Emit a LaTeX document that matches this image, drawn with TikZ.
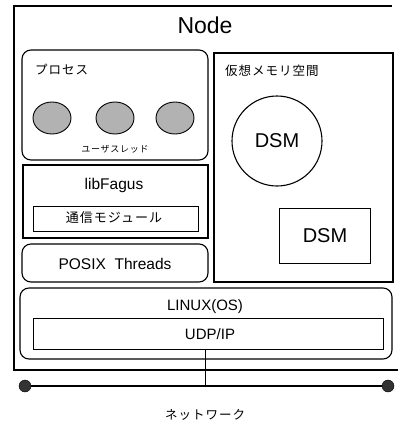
\documentclass[tikz,border=0pt]{standalone}
\usepackage{fontspec}
\setmainfont{Liberation Sans}
\newfontfamily\jp[LetterSpace=8]{Noto Sans CJK JP}
\usetikzlibrary{shapes.geometric}
\begin{document}
\begin{tikzpicture}[x=1pt,y=-1pt,
  box/.style={draw,line width=1.1pt},
  rbox/.style={draw,line width=1.1pt,rounded corners=9pt},
  ibox/.style={draw,line width=0.8pt},
  thread/.style={draw,line width=0.9pt,fill=gray!60},
  lbl/.style={inner sep=0pt,anchor=center},
  jlbl/.style={inner sep=0pt,font=\jp\fontsize{12.5}{12.5}\selectfont},
  dot/.style={circle,fill=black!80,draw,inner sep=0pt,minimum size=12pt}]
\useasboundingbox (0,0) rectangle (398,426);
% outer node frame
\draw[line width=1.1pt] (392,6) -- (14,6) -- (14,370) -- (398,370);
\node[lbl,font=\fontsize{23}{23}\selectfont] (title) at (205,25) {Node};
% process
\draw[rbox] (22,50) rectangle (208,160);
\node[jlbl,anchor=west] (proc) at (35,70) {プロセス};
\node[thread,ellipse,minimum width=38pt,minimum height=32pt,inner sep=0pt] (t1) at (52,118) {};
\node[thread,ellipse,minimum width=38pt,minimum height=32pt,inner sep=0pt] (t2) at (115,118) {};
\node[thread,ellipse,minimum width=38pt,minimum height=32pt,inner sep=0pt] (t3) at (175,118) {};
\node[jlbl,font=\jp\fontsize{9}{9}\selectfont] (ut) at (115,149) {ユーザスレッド};
% libFagus
\draw[box] (23,165) rectangle (208,238);
\node[lbl,font=\fontsize{15.5}{15.5}\selectfont] (lf) at (114,185) {libFagus};
\draw[ibox] (33,206) rectangle (198,231);
\node[jlbl,font=\jp\fontsize{13}{13}\selectfont] (comm) at (114,218) {通信モジュール};
% POSIX
\draw[rbox] (22,244) rectangle (208,282);
\node[lbl,font=\fontsize{15.5}{15.5}\selectfont] (posix) at (115,264) {POSIX\ \ Threads};
% virtual memory
\draw[box] (214,53) rectangle (393,282);
\node[jlbl,anchor=west] (vm) at (225,71) {仮想メモリ空間};
\node[circle,draw,line width=1.1pt,minimum size=90pt,inner sep=0pt,font=\fontsize{20}{20}\selectfont] (dsm1) at (277,141) {DSM};
\node[draw,line width=1.1pt,minimum width=91pt,minimum height=55pt,inner sep=0pt,font=\fontsize{20}{20}\selectfont] (dsm2) at (325,236) {DSM};
% linux
\draw[rbox] (20,288) rectangle (392,359);
\node[lbl,font=\fontsize{15}{15}\selectfont] (linux) at (205,307) {LINUX(OS)};
\draw[ibox] (33,318) rectangle (383,349);
\node[lbl,font=\fontsize{15}{15}\selectfont] (udp) at (210,334) {UDP/IP};
\coordinate (udpb) at (205,349);
% network
\node[dot] (n1) at (25,386) {};
\node[dot] (n2) at (388,386) {};
\draw[line width=2pt] (n1) -- (n2);
\coordinate (tap) at (205,386);
\draw[line width=0.8pt] (udpb) -- (tap);
\node[jlbl] (net) at (205,415) {ネットワーク};
\end{tikzpicture}
\end{document}
